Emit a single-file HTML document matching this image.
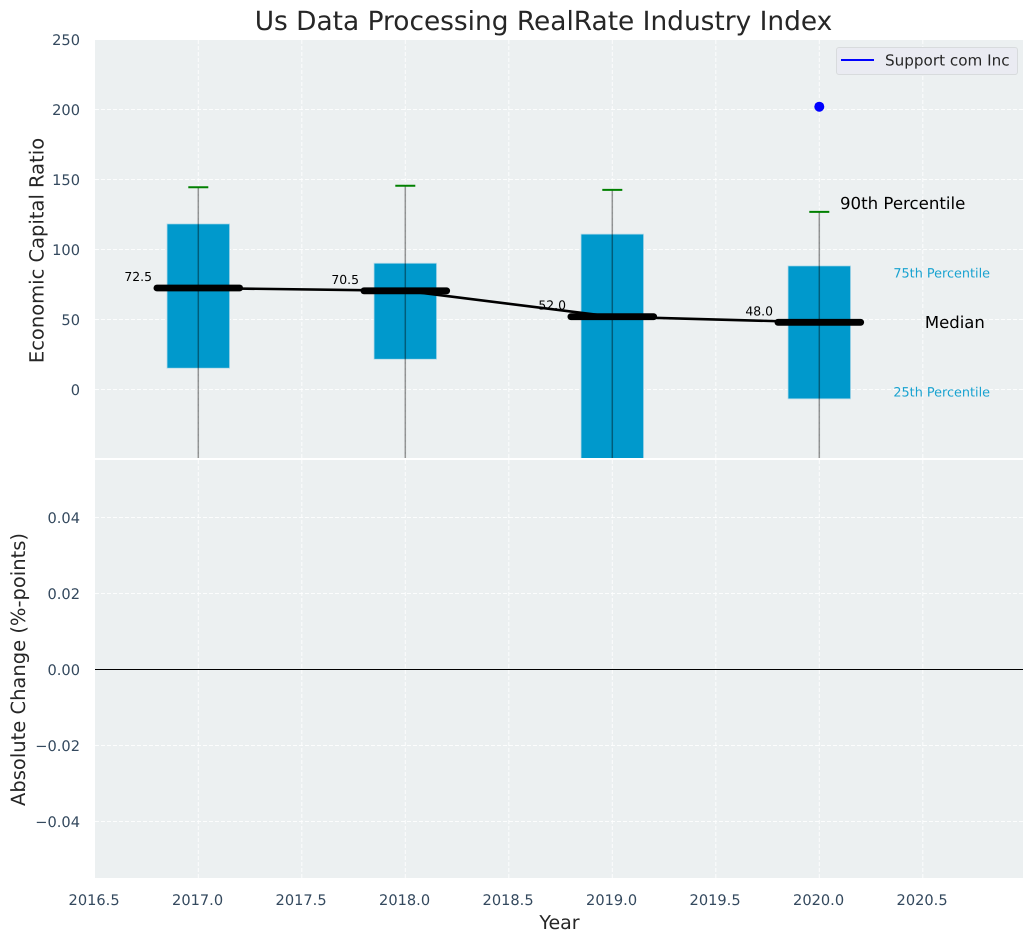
<!DOCTYPE html>
<html>
<head>
<meta charset="utf-8">
<title>Us Data Processing RealRate Industry Index</title>
<style>
html,body{margin:0;padding:0;background:#fff;}
svg{display:block;}
text{font-family:"DejaVu Sans","Liberation Sans",sans-serif;text-rendering:geometricPrecision;}
</style>
</head>
<body>
<svg id="chart" xmlns="http://www.w3.org/2000/svg" width="1034" height="942" viewBox="0 0 1034 942"></svg>
<script>
const years = [2017, 2018, 2019, 2020];
const p90 = [144.5, 145.5, 142.6, 126.9];
const p75 = [118.3, 90.2, 111, 88.3];
const medians = [72.5, 70.5, 52.0, 48.0];
const p25 = [15.2, 21.6, -62, -6.7];
const p10 = [-95, -85, -120, -75];
const companyYears = [2020];
const companyValues = [202];
const xTicks = [2016.5, 2017, 2017.5, 2018, 2018.5, 2019, 2019.5, 2020, 2020.5];
const topYTicks = [0, 50, 100, 150, 200, 250];
const bottomYTicks = [-0.04, -0.02, 0, 0.02, 0.04];

const SVGNS = 'http://www.w3.org/2000/svg';
const svg = document.getElementById('chart');
const LEFT = 95, RIGHT = 1023;
const TOP1 = 40, BOT1 = 458, TOP2 = 460, BOT2 = 878;
function xs(v){ return 198.3 + (v - 2017) * 207; }
function yTop(v){ return 389.5 - v * 1.4; }
function yBot(v){ return 669.5 - v * 3800; }

function el(tag, attrs, parent, txt){
  const n = document.createElementNS(SVGNS, tag);
  for (const k in attrs) n.setAttribute(k, attrs[k]);
  if (txt !== undefined) n.textContent = txt;
  (parent || svg).appendChild(n);
  return n;
}
const defs = el('defs', {});
const clip = el('clipPath', {id: 'clip-top'}, defs);
el('rect', {x: LEFT, y: TOP1, width: RIGHT - LEFT, height: BOT1 - TOP1}, clip);

let node;
node = el('rect', {x: LEFT, y: TOP1, width: RIGHT - LEFT, height: BOT1 - TOP1, fill: '#ecf0f1'});


node = el('rect', {x: LEFT, y: TOP2, width: RIGHT - LEFT, height: BOT2 - TOP2, fill: '#ecf0f1'});



const gridStyle = {stroke: '#ffffff', 'stroke-width': 1, 'stroke-dasharray': '4 2', 'stroke-opacity': 0.85, fill: 'none'};
xTicks.forEach(function(t){
  if (t === 2016.5) return;
  const a = el('line', Object.assign({x1: xs(t), x2: xs(t), y1: TOP1, y2: BOT1}, gridStyle));
  
  
  const b = el('line', Object.assign({x1: xs(t), x2: xs(t), y1: TOP2, y2: BOT2}, gridStyle));
  
  
});
topYTicks.forEach(function(t){
  if (t === 250) return;
  const a = el('line', Object.assign({x1: LEFT, x2: RIGHT, y1: yTop(t), y2: yTop(t)}, gridStyle));
  
  
});
bottomYTicks.forEach(function(t){
  if (t === 0) return;
  const a = el('line', Object.assign({x1: LEFT, x2: RIGHT, y1: yBot(t), y2: yBot(t)}, gridStyle));
  
  
});

const tickColor = '#34495e';
topYTicks.forEach(function(t){
  const a = el('text', {x: 80, y: yTop(t) + 5.5, 'text-anchor': 'end', 'font-size': 14.6, fill: tickColor}, svg, String(t));
  
  
});
bottomYTicks.forEach(function(t){
  const label = t === 0 ? '0.00' : (t < 0 ? '\u2212' : '') + Math.abs(t).toFixed(2);
  const a = el('text', {x: 80, y: yBot(t) + 5.5, 'text-anchor': 'end', 'font-size': 14.6, fill: tickColor}, svg, label);
  
  
});
xTicks.forEach(function(t){
  const a = el('text', {x: xs(t) - 0.7, y: 905, 'text-anchor': 'middle', 'font-size': 14.6, fill: tickColor}, svg, t.toFixed(1));
  
  
});

const clipped = el('g', {'clip-path': 'url(#clip-top)'});



years.forEach(function(yr, i){
  const x = xs(yr);
  const box = el('rect', {x: x - 31.3, y: yTop(p75[i]), width: 62.6, height: yTop(p25[i]) - yTop(p75[i]), fill: '#0099cc', stroke: '#b8dcea', 'stroke-width': 0.8}, clipped);
  
  
  const wh = el('line', {x1: x, x2: x, y1: yTop(p90[i]), y2: yTop(p10[i]), stroke: '#000000', 'stroke-opacity': 0.4, 'stroke-width': 1.5}, clipped);
  
  
  const cap = el('line', {x1: x - 10, x2: x + 10, y1: yTop(p90[i]), y2: yTop(p90[i]), stroke: '#008000', 'stroke-width': 2}, clipped);
  
  
  const lbl = el('text', {x: x - 46.3, y: yTop(medians[i]) - 7, 'text-anchor': 'end', 'font-size': 12.4, fill: '#000000'}, svg, medians[i].toFixed(1));
  
  
});

const medianPoints = years.map(function(yr, i){ return xs(yr) + ',' + yTop(medians[i]); }).join(' ');
const trend = el('polyline', {points: medianPoints, fill: 'none', stroke: '#000000', 'stroke-width': 2.6}, clipped);



years.forEach(function(yr, i){
  const m = el('line', {x1: xs(yr - 0.2), x2: xs(yr + 0.2), y1: yTop(medians[i]), y2: yTop(medians[i]), stroke: '#000000', 'stroke-width': 6.8, 'stroke-linecap': 'round'}, clipped);
  
  
});

companyYears.forEach(function(yr, i){
  const c = el('circle', {cx: xs(yr), cy: yTop(companyValues[i]), r: 5, fill: '#0000ff'}, clipped);
  
  
});

node = el('text', {x: xs(2020.1), y: 209, 'font-size': 16.6, fill: '#000000'}, svg, '90th Percentile');


node = el('text', {x: xs(2020.358), y: 277.3, 'font-size': 12.8, fill: '#0099cc', 'fill-opacity': 0.9}, svg, '75th Percentile');


node = el('text', {x: xs(2020.51), y: 328, 'font-size': 16.5, fill: '#000000'}, svg, 'Median');


node = el('text', {x: xs(2020.358), y: 396.3, 'font-size': 12.8, fill: '#0099cc', 'fill-opacity': 0.9}, svg, '25th Percentile');



node = el('line', {x1: LEFT, x2: RIGHT, y1: yBot(0), y2: yBot(0), stroke: '#000000', 'stroke-width': 1});



node = el('text', {x: 543.5, y: 30, 'text-anchor': 'middle', 'font-size': 26.4, fill: '#262626'}, svg, 'Us Data Processing RealRate Industry Index');


node = el('text', {x: 559.5, y: 929, 'text-anchor': 'middle', 'font-size': 19, fill: '#262626'}, svg, 'Year');


node = el('text', {transform: 'translate(43.5 250.5) rotate(-90)', 'text-anchor': 'middle', 'font-size': 19.5, fill: '#262626'}, svg, 'Economic Capital Ratio');


node = el('text', {transform: 'translate(25 669.5) rotate(-90)', 'text-anchor': 'middle', 'font-size': 19.5, fill: '#262626'}, svg, 'Absolute Change (%-points)');



const legend = el('g', {});


node = el('rect', {x: 836.5, y: 47.5, width: 181, height: 27, rx: 2.5, fill: '#eaebf2', stroke: '#d8dbdd', 'stroke-width': 1}, legend);


node = el('line', {x1: 841, x2: 874, y1: 60, y2: 60, stroke: '#0000ff', 'stroke-width': 1.9}, legend);


node = el('text', {x: 885, y: 65.5, 'font-size': 15.2, fill: '#262626'}, legend, 'Support com Inc');


</script>
</body>
</html>
